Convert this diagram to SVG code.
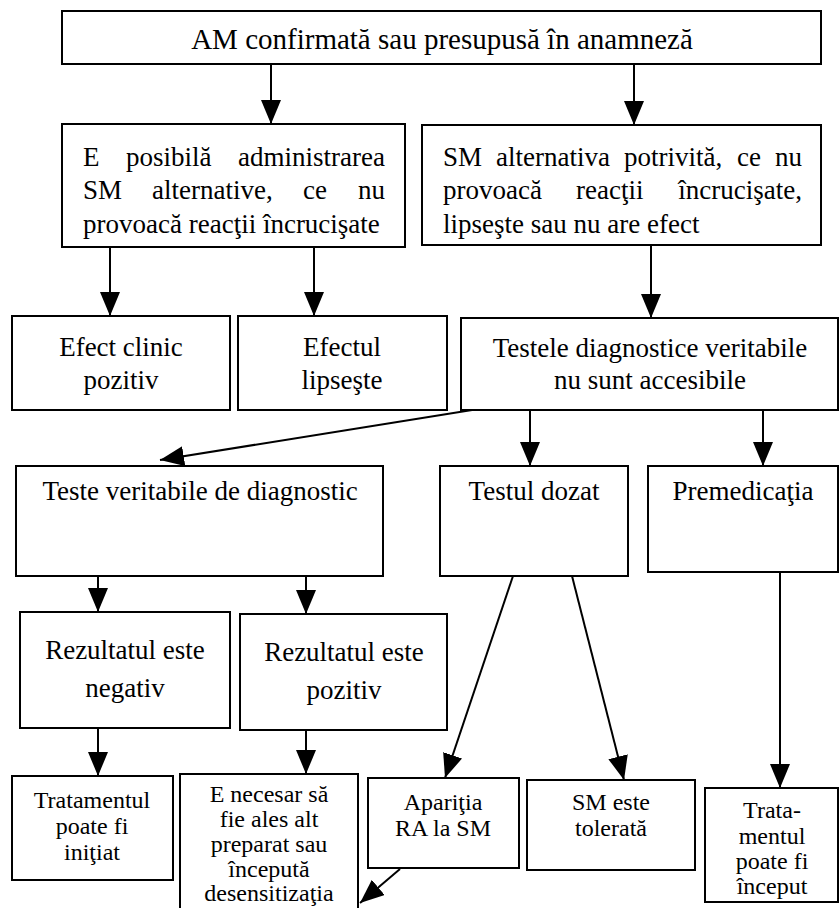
<svg xmlns="http://www.w3.org/2000/svg" width="840" height="908" viewBox="0 0 840 908">
<defs>
<marker id="ah" markerUnits="userSpaceOnUse" markerWidth="24" markerHeight="20" refX="24" refY="10" orient="auto" viewBox="0 0 24 20">
<path d="M0,0 L24,10 L0,20 z" fill="#000"/>
</marker>
<style>
.box{fill:#fff;stroke:#000;stroke-width:2}
.t{font-family:"Liberation Serif","Times New Roman",serif;font-size:27px;fill:#000;text-anchor:middle}
.s{font-size:24px}
.l{text-anchor:start}
.r{text-anchor:end}
.c{stroke:#000;stroke-width:2;fill:none;marker-end:url(#ah)}
</style>
</defs>
<rect width="840" height="908" fill="#fff"/>
<g id="connectors">
<line class="c" x1="271" y1="64" x2="271" y2="124"/>
<line class="c" x1="634" y1="64" x2="634" y2="125"/>
<line class="c" x1="110" y1="247" x2="110" y2="316"/>
<line class="c" x1="314" y1="247" x2="314" y2="316"/>
<line class="c" x1="651" y1="245" x2="651" y2="318"/>
<line class="c" x1="497" y1="406" x2="160" y2="460"/>
<line class="c" x1="530" y1="410" x2="530" y2="466"/>
<line class="c" x1="763" y1="410" x2="763" y2="466"/>
<line class="c" x1="98" y1="576" x2="98" y2="612"/>
<line class="c" x1="306" y1="576" x2="306" y2="614"/>
<line class="c" x1="513" y1="576" x2="445" y2="778"/>
<line class="c" x1="572" y1="576" x2="624" y2="780"/>
<line class="c" x1="780" y1="572" x2="780" y2="788"/>
<line class="c" x1="98" y1="728" x2="98" y2="776"/>
<line class="c" x1="306" y1="730" x2="306" y2="774"/>
<line class="c" x1="400" y1="869" x2="360" y2="903"/>
</g>
<g id="n1"><rect class="box" x="62" y="11" width="759" height="53"/><text class="t" x="442" y="49" style="font-size:29px">AM confirmată sau presupusă în anamneză</text></g>
<g id="n2"><rect class="box" x="62" y="124" width="343" height="123"/>
<text class="t l" x="83" y="166">E</text><text class="t l" x="126" y="166">posibilă</text><text class="t r" x="385" y="166">administrarea</text>
<text class="t l" x="83" y="199">SM</text><text class="t l" x="152" y="199">alternative,</text><text class="t l" x="303" y="199">ce</text><text class="t r" x="385" y="199">nu</text>
<text class="t l" x="83" y="233">provoacă reacţii încrucişate</text></g>
<g id="n3"><rect class="box" x="422" y="125" width="399" height="120"/>
<text class="t l" x="443" y="166">SM</text><text class="t l" x="496" y="166">alternativa</text><text class="t l" x="624" y="166">potrivită,</text><text class="t l" x="737" y="166">ce</text><text class="t r" x="802" y="166">nu</text>
<text class="t l" x="443" y="199">provoacă</text><text class="t l" x="576" y="199">reacţii</text><text class="t r" x="802" y="199">încrucişate,</text>
<text class="t l" x="443" y="233">lipseşte sau nu are efect</text></g>
<g id="n4"><rect class="box" x="12" y="316" width="218" height="94"/><text class="t" x="121" y="356">Efect clinic</text><text class="t" x="121" y="389">pozitiv</text></g>
<g id="n5"><rect class="box" x="238" y="316" width="209" height="94"/><text class="t" x="342" y="356">Efectul</text><text class="t" x="342" y="389">lipseşte</text></g>
<g id="n6"><rect class="box" x="461" y="318" width="377" height="92"/><text class="t" x="650" y="357">Testele diagnostice veritabile</text><text class="t" x="650" y="389">nu sunt accesibile</text></g>
<g id="n7"><rect class="box" x="16" y="466" width="367" height="110"/><text class="t" x="200" y="500">Teste veritabile de diagnostic</text></g>
<g id="n8"><rect class="box" x="440" y="466" width="188" height="110"/><text class="t" x="534" y="500">Testul dozat</text></g>
<g id="n9"><rect class="box" x="648" y="466" width="190" height="106"/><text class="t" x="743" y="500">Premedicaţia</text></g>
<g id="n10"><rect class="box" x="20" y="612" width="210" height="116"/><text class="t" x="125" y="659">Rezultatul este</text><text class="t" x="125" y="697">negativ</text></g>
<g id="n11"><rect class="box" x="240" y="614" width="207" height="116"/><text class="t" x="344" y="661">Rezultatul este</text><text class="t" x="344" y="699">pozitiv</text></g>
<g id="n12"><rect class="box" x="12" y="776" width="161" height="104"/><text class="t s" x="92" y="808">Tratamentul</text><text class="t s" x="92" y="834">poate fi</text><text class="t s" x="92" y="860">iniţiat</text></g>
<g id="n13"><rect class="box" x="180" y="774" width="178" height="150"/><text class="t s" x="269" y="802">E necesar să</text><text class="t s" x="269" y="827">fie ales alt</text><text class="t s" x="269" y="852">preparat sau</text><text class="t s" x="269" y="877">începută</text><text class="t s" x="269" y="901">desensitizaţia</text></g>
<g id="n14"><rect class="box" x="368" y="778" width="151" height="90"/><text class="t s" x="443" y="810">Apariţia</text><text class="t s" x="443" y="836">RA la SM</text></g>
<g id="n15"><rect class="box" x="527" y="780" width="168" height="90"/><text class="t s" x="611" y="810">SM este</text><text class="t s" x="611" y="836">tolerată</text></g>
<g id="n16"><rect class="box" x="705" y="788" width="133" height="114"/><text class="t s" x="772" y="818">Trata-</text><text class="t s" x="772" y="844">mentul</text><text class="t s" x="772" y="869">poate fi</text><text class="t s" x="772" y="894">început</text></g>
</svg>
